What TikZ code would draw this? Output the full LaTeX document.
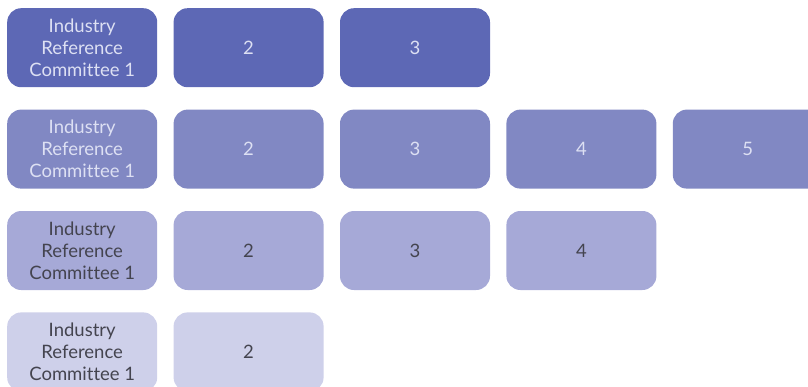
\documentclass[tikz,border=0pt]{standalone}
\usepackage{fontspec}
\setmainfont{Lato}[Ligatures=NoCommon]
\usetikzlibrary{positioning}

\definecolor{rowone}{HTML}{5D68B5}
\definecolor{rowtwo}{HTML}{8188C3}
\definecolor{rowthree}{HTML}{A6A9D7}
\definecolor{rowfour}{HTML}{CED0EA}
\definecolor{lighttext}{HTML}{DDE0F3}
\definecolor{darktext}{HTML}{44444F}

\begin{document}
\begin{tikzpicture}[
    x=1pt, y=1pt,
    node distance=22pt and 16pt,
    every node/.style={font=\fontsize{18.5}{22}\selectfont},
    cell/.style={rounded corners=14pt, minimum width=150pt, minimum height=79pt, inner sep=0pt, align=center},
    irc1/.style={cell, fill=rowone, text=lighttext},
    irc2/.style={cell, fill=rowtwo, text=lighttext},
    irc3/.style={cell, fill=rowthree, text=darktext},
    irc4/.style={cell, fill=rowfour, text=darktext}
]
\useasboundingbox (0,0) rectangle (808,-386);
% first row
\node[irc1, anchor=north west] (a1) at (7,-8) {Industry\\Reference\\Committee 1};
\node[irc1, right=of a1] (a2) {2};
\node[irc1, right=of a2] (a3) {3};
% second row
\node[irc2, below=of a1] (b1) {Industry\\Reference\\Committee 1};
\node[irc2, right=of b1] (b2) {2};
\node[irc2, right=of b2] (b3) {3};
\node[irc2, right=of b3] (b4) {4};
\node[irc2, right=of b4] (b5) {5};
% third row
\node[irc3, below=of b1] (c1) {Industry\\Reference\\Committee 1};
\node[irc3, right=of c1] (c2) {2};
\node[irc3, right=of c2] (c3) {3};
\node[irc3, right=of c3] (c4) {4};
% fourth row
\node[irc4, below=of c1] (d1) {Industry\\Reference\\Committee 1};
\node[irc4, right=of d1] (d2) {2};
\end{tikzpicture}
\end{document}
